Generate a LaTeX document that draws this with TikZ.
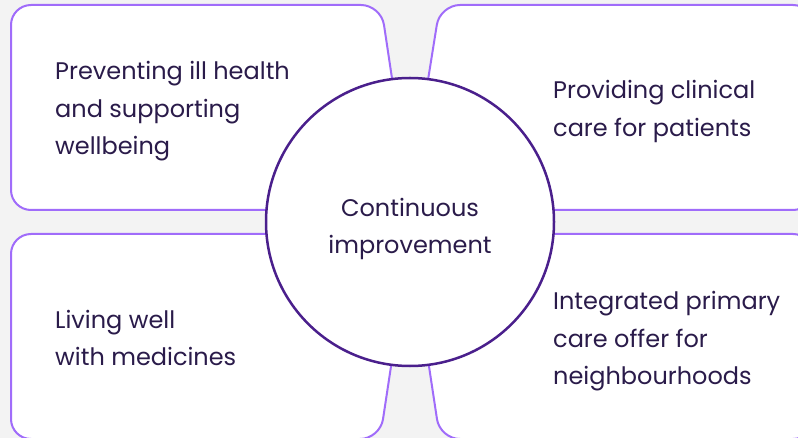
\documentclass[tikz,border=0pt]{standalone}
\usepackage{fontspec}
\setmainfont{Poppins}
\definecolor{bg}{HTML}{F3F3F3}
\definecolor{boxline}{HTML}{A06CFA}
\definecolor{ring}{HTML}{4A1F8C}
\definecolor{ink}{HTML}{2A1B4A}
\begin{document}
\begin{tikzpicture}[x=1pt,y=-1pt,
  boxshape/.style={draw=boxline, fill=white, line width=2pt, rounded corners=20pt},
  ringshape/.style={draw=ring, fill=white, line width=2.5pt},
  label/.style={font=\fontsize{24}{37.5}\selectfont, text=ink, align=left, anchor=west, inner sep=0pt}]
\fill[bg] (0,0) rectangle (798,438);
\useasboundingbox (0,0) rectangle (798,438);
% boxes
\draw[boxshape] (300,210) -- (11,210) -- (11,5) -- (381,5) -- (396,105);
\draw[boxshape] (424,105) -- (440,5) -- (813,5) -- (813,210) -- (520,210);
\draw[boxshape] (300,234) -- (11,234) -- (11,439) -- (380,439) -- (395,340);
\draw[boxshape] (425,340) -- (440,439) -- (813,439) -- (813,234) -- (520,234);
% circle
\node[ringshape, circle, minimum size=288pt, inner sep=0pt] (hub) at (410,222) {};
% texts
\node[label] (tl) at (55,111.5) {Preventing ill health\\and supporting\\wellbeing};
\node[label] (tr) at (553,111.5) {Providing clinical\\care for patients};
\node[label] (bl) at (55,338) {Living well\\with medicines};
\node[label] (br) at (553,341.5) {Integrated primary\\care offer for\\neighbourhoods};
\node[label, align=center, anchor=center] (c) at (410,229) {Continuous\\improvement};
\end{tikzpicture}
\end{document}
